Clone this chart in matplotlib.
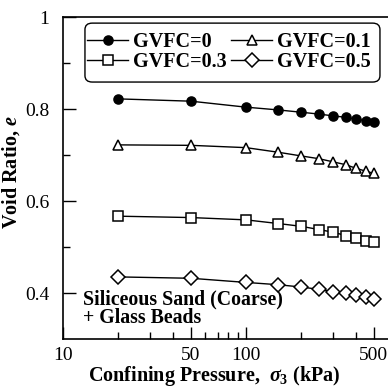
import matplotlib
matplotlib.use("Agg")
import matplotlib.pyplot as plt
from matplotlib.patches import FancyBboxPatch
from matplotlib.ticker import FixedLocator, NullFormatter

plt.rcParams['font.family'] = ['Liberation Serif', 'DejaVu Serif']
plt.rcParams['mathtext.fontset'] = 'custom'
plt.rcParams['mathtext.rm'] = 'Liberation Serif:bold'
plt.rcParams['mathtext.it'] = 'Liberation Serif:bold:italic'
plt.rcParams['mathtext.bf'] = 'Liberation Serif:bold'

# confining pressure steps (kPa)
pressure = [20, 50, 100, 150, 200, 250, 300, 350, 400, 450, 500]

e_gvfc0 = [0.822, 0.817, 0.804, 0.798, 0.793, 0.789, 0.785, 0.782, 0.778, 0.775, 0.772]
e_gvfc01 = [0.722, 0.721, 0.716, 0.706, 0.698, 0.692, 0.685, 0.679, 0.671, 0.665, 0.660]
e_gvfc03 = [0.567, 0.564, 0.559, 0.551, 0.545, 0.538, 0.532, 0.525, 0.519, 0.514, 0.510]
e_gvfc05 = [0.435, 0.432, 0.423, 0.418, 0.413, 0.408, 0.403, 0.399, 0.396, 0.392, 0.388]

x_major = [10, 50, 100, 500]
x_major_labels = ['10', '50', '100', '500']
x_minor = [20, 30, 40, 60, 70, 80, 90, 200, 300, 400]
y_major = [0.4, 0.6, 0.8, 1.0]
y_major_labels = ['0.4', '0.6', '0.8', '1']
y_minor = [0.5, 0.7, 0.9]

fig = plt.figure(figsize=(3.88, 3.87), dpi=100)
# right spine sits past the edge of the canvas
ax = fig.add_axes([63 / 388, 48 / 387, 366 / 388, 322 / 387])

kw = dict(color='black', lw=1.0, mec='black', mew=1.1)
l0, = ax.plot(pressure, e_gvfc0, marker='o', ms=6.5, mfc='black', label='GVFC=0', **kw)
l1, = ax.plot(pressure, e_gvfc01, marker='^', ms=7.5, mfc='white', label='GVFC=0.1', **kw)
l3, = ax.plot(pressure, e_gvfc03, marker='s', ms=6.5, mfc='white', label='GVFC=0.3', **kw)
l5, = ax.plot(pressure, e_gvfc05, marker='D', ms=7, mfc='white', label='GVFC=0.5', **kw)

ax.set_xscale('log')
ax.set_xlim(10, 1000)
ax.set_ylim(0.3, 1.0)

ax.xaxis.set_major_locator(FixedLocator(x_major))
ax.set_xticklabels(x_major_labels)
ax.xaxis.set_minor_locator(FixedLocator(x_minor))
ax.xaxis.set_minor_formatter(NullFormatter())
ax.yaxis.set_major_locator(FixedLocator(y_major))
ax.set_yticklabels(y_major_labels)
ax.yaxis.set_minor_locator(FixedLocator(y_minor))

ax.tick_params(which='both', direction='in', width=1.0, labelsize=14)
ax.tick_params(which='major', length=9)
ax.tick_params(axis='x', which='major', pad=6)
ax.tick_params(axis='y', which='major', pad=10)
ax.tick_params(which='minor', length=5)
for s in ax.spines.values():
    s.set_linewidth(1.2)

ax.set_xlabel(r'Confining Pressure,  $\sigma_3$ (kPa)', fontsize=14.5,
              fontweight='bold')
ax.xaxis.set_label_coords(0.413, -0.077)
ax.set_ylabel(r'Void Ratio, $e$', fontsize=14.5, fontweight='bold')
ax.yaxis.set_label_coords(-0.112, 0.52)

# legend entries without their own frame; rounded box drawn separately
leg = ax.legend(handles=[l0, l3, l1, l5], ncol=2, loc='upper left',
                bbox_to_anchor=(0.041, 0.981), frameon=False, handlelength=2.05,
                handletextpad=0.25, columnspacing=0.2, labelspacing=0.0,
                borderpad=0.45, borderaxespad=0.0,
                prop={'weight': 'bold', 'size': 14.5})
box = FancyBboxPatch((0.060, 0.798), 0.806, 0.183, transform=ax.transAxes,
                     boxstyle='round,pad=0,rounding_size=0.02',
                     fc='white', ec='black', lw=1.0, zorder=4)
ax.add_patch(box)
leg.set_zorder(5)

ax.text(20 / 366, 0.155, 'Siliceous Sand (Coarse)\n+ Glass Beads', transform=ax.transAxes,
        fontsize=14.3, fontweight='bold', va='top', ha='left', linespacing=0.95)

fig.savefig('out.png', dpi=100)
